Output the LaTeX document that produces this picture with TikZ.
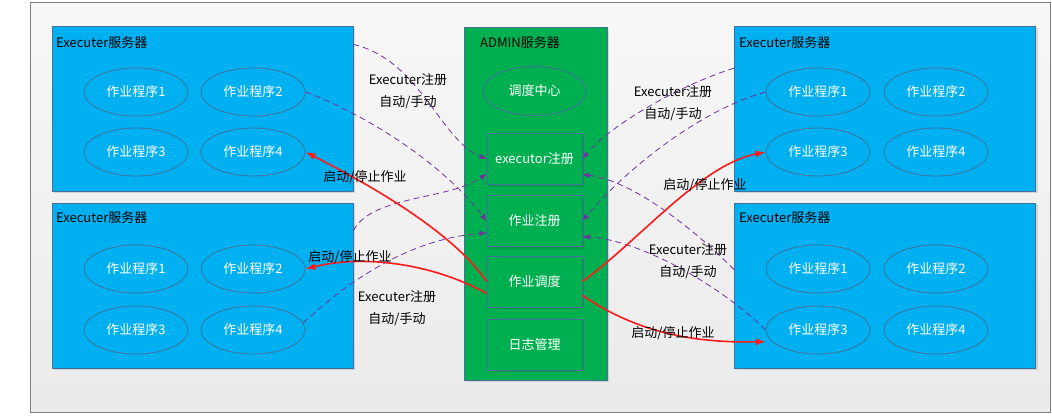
\documentclass[tikz,border=0pt]{standalone}
\usepackage{fontspec}
\setmainfont{Noto Sans CJK SC}
\usetikzlibrary{arrows.meta,shapes.geometric,shadows}
\definecolor{boxblue}{HTML}{00B0F0}
\definecolor{admingreen}{HTML}{00B050}
\definecolor{edgeblue}{HTML}{41719C}
\definecolor{framegray}{HTML}{7F7F7F}
\definecolor{regpurple}{HTML}{7030A0}
\definecolor{redline}{HTML}{FF1A1A}
\begin{document}
\begin{tikzpicture}[x=1pt,y=-1pt,
  every node/.style={font=\fontsize{13}{22}\selectfont, inner sep=0pt},
  shad/.style={drop shadow={shadow xshift=2pt, shadow yshift=-2pt, fill=black, opacity=0.12}},
  frame/.style={rectangle, draw=framegray, line width=0.8pt, top color=white!97!black, bottom color=white!92!black, minimum width=1020pt, minimum height=410pt},
  server/.style={rectangle, draw=edgeblue, fill=boxblue, line width=0.8pt, minimum width=301pt, minimum height=165pt, shad},
  job/.style={ellipse, draw=edgeblue, fill=boxblue, line width=0.8pt, minimum width=104pt, minimum height=48pt, text=white},
  adminbox/.style={rectangle, draw=edgeblue, fill=admingreen, line width=0.8pt, minimum width=143pt, minimum height=353pt, shad},
  func/.style={rectangle, draw=edgeblue, fill=admingreen, line width=0.8pt, minimum width=95pt, minimum height=51pt, text=white, shad},
  center/.style={ellipse, draw=edgeblue, fill=admingreen, line width=0.8pt, minimum width=103pt, minimum height=49pt, text=white},
  title/.style={anchor=west, text=black},
  lbl/.style={align=center, text=black},
  reg/.style={draw=regpurple, line width=0.8pt, dash pattern=on 6pt off 4pt, -{Latex[length=7pt,width=5.5pt]}},
  ctrl/.style={draw=redline, line width=1.6pt, -{Latex[length=10pt,width=7pt]}}
]
\useasboundingbox (0,0) rectangle (1052,416);
\node[frame] (frm) at (540,207) {};

% server boxes
\node[server] (tl) at (202.5,108.5) {};
\node[server] (bl) at (202.5,285.5) {};
\node[server] (tr) at (885,108.5) {};
\node[server] (br) at (885,285.5) {};
\node[title] (tlt) at (56,43) {Executer服务器};
\node[title] (blt) at (56,218) {Executer服务器};
\node[title] (trt) at (739,43) {Executer服务器};
\node[title] (brt) at (739,218) {Executer服务器};

\node[job] (tlj1) at (136,92) {作业程序1};
\node[job] (tlj2) at (253,92) {作业程序2};
\node[job] (tlj3) at (136,152) {作业程序3};
\node[job] (tlj4) at (253,152) {作业程序4};
\node[job] (blj1) at (136,269) {作业程序1};
\node[job] (blj2) at (253,269) {作业程序2};
\node[job] (blj3) at (136,330) {作业程序3};
\node[job] (blj4) at (253,330) {作业程序4};
\node[job] (trj1) at (818,92) {作业程序1};
\node[job] (trj2) at (936,92) {作业程序2};
\node[job] (trj3) at (818,152) {作业程序3};
\node[job] (trj4) at (936,152) {作业程序4};
\node[job] (brj1) at (818,269) {作业程序1};
\node[job] (brj2) at (936,269) {作业程序2};
\node[job] (brj3) at (818,330) {作业程序3};
\node[job] (brj4) at (936,330) {作业程序4};

% admin
\node[adminbox] (admin) at (535.5,203.5) {};
\node[text=black] (admint) at (520,43) {ADMIN服务器};
\node[center] (dd) at (534.5,91) {调度中心};
\node[func] (exreg) at (534.5,159) {executor注册};
\node[func] (jreg) at (534.5,221) {作业注册};
\node[func] (jsch) at (534.5,281.5) {作业调度};
\node[func] (logm) at (534.5,344.5) {日志管理};

% registration (purple dashed)
\draw[reg] (tl.23) .. controls (420,60) and (440,140) .. (exreg.west);
\draw[reg] (tlj2.east) .. controls (360,112) and (440,160) .. (jreg.west);
\draw[reg] (bl.20) .. controls (372,195) and (450,200) .. (exreg.197);
\draw[reg] (blj4.8) .. controls (360,270) and (420,238) .. (jreg.194);
\draw[reg] (tr.165) .. controls (680,85) and (610,125) .. (exreg.east);
\draw[reg] (trj1.west) .. controls (700,110) and (625,170) .. (jreg.east);
\draw[reg] (br.174) .. controls (690,225) and (630,180) .. (exreg.-18);
\draw[reg] (brj3.west) .. controls (720,285) and (640,240) .. (jreg.-18);

% control (red)
\draw[ctrl] (jsch.west) .. controls (455,235) and (380,190) .. (tlj4.east);
\draw[ctrl] (jsch.194) .. controls (430,262) and (360,255) .. (blj2.east);
\draw[ctrl] (jsch.east) .. controls (640,240) and (700,165) .. (trj3.west);
\draw[ctrl, shorten >=6pt] (jsch.-16) .. controls (640,335) and (700,343) .. (brj3.194);

% labels
\node[lbl] (l1) at (408,91) {Executer注册\\自动/手动};
\node[lbl] (l2) at (365,177) {启动/停止作业};
\node[lbl] (l3) at (350,257) {启动/停止作业};
\node[lbl] (l4) at (397,308.5) {Executer注册\\自动/手动};
\node[lbl] (l5) at (673,103) {Executer注册\\自动/手动};
\node[lbl] (l6) at (705,185) {启动/停止作业};
\node[lbl] (l7) at (688,261.5) {Executer注册\\自动/手动};
\node[lbl] (l8) at (673,333) {启动/停止作业};
\end{tikzpicture}
\end{document}
